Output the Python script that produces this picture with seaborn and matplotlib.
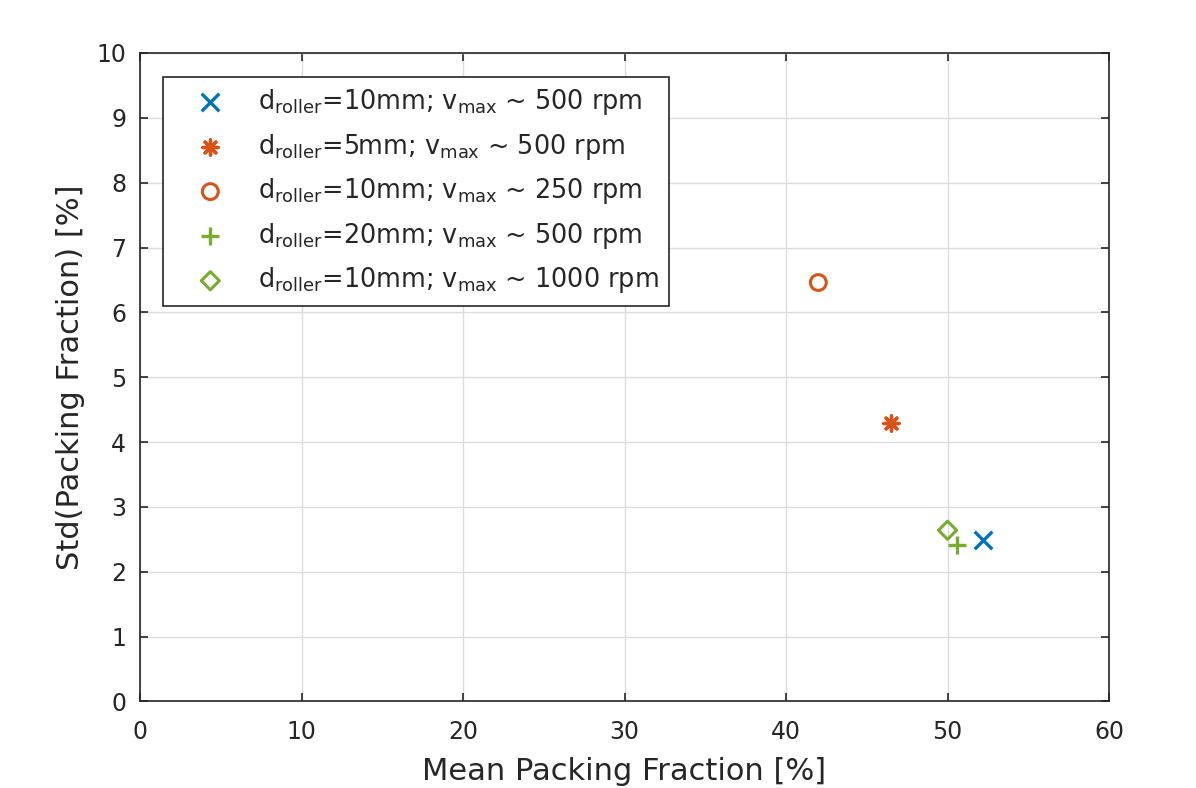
"""
Std vs mean packing fraction for different roller settings
"""
import matplotlib
matplotlib.use("Agg")
import matplotlib.pyplot as plt
import seaborn as sns
import pandas as pd

# data
labels = [
    r"d$_{\rm roller}$=10mm; v$_{\rm max}$ ~ 500 rpm",
    r"d$_{\rm roller}$=5mm; v$_{\rm max}$ ~ 500 rpm",
    r"d$_{\rm roller}$=10mm; v$_{\rm max}$ ~ 250 rpm",
    r"d$_{\rm roller}$=20mm; v$_{\rm max}$ ~ 500 rpm",
    r"d$_{\rm roller}$=10mm; v$_{\rm max}$ ~ 1000 rpm",
]
mean_pf = [52.2, 46.5, 42.0, 50.6, 50.0]
std_pf = [2.49, 4.29, 6.46, 2.42, 2.64]

markers = ["x", (8, 2, 0), "o", "+", "D"]
colors = ["#0072BD", "#D95319", "#D95319", "#77AC30", "#77AC30"]
filled = [False, False, True, False, True]
sizes = [160, 120, 130, 180, 85]

x_ticks = list(range(0, 61, 10))
y_ticks = list(range(0, 11))

sns.set_theme(style="ticks")
plt.rcParams["font.family"] = ["DejaVu Sans"]
plt.rcParams["mathtext.default"] = "regular"

fig = plt.figure(figsize=(11.96, 7.88), dpi=100)
ax = fig.add_axes([0.1171, 0.1098, 0.8102, 0.8230])

df = pd.DataFrame({"mean": mean_pf, "std": std_pf, "label": labels})

for i, row in df.iterrows():
    sub = df.iloc[[i]]
    if filled[i]:
        sns.scatterplot(data=sub, x="mean", y="std", marker=markers[i], s=sizes[i],
                        facecolors="none", edgecolor=colors[i], linewidth=2.2,
                        label=row["label"], ax=ax, zorder=3)
    else:
        sns.scatterplot(data=sub, x="mean", y="std", marker=markers[i], s=sizes[i],
                        color=colors[i], linewidth=2.4,
                        label=row["label"], ax=ax, zorder=3)

ax.set_xlim(0, 60)
ax.set_ylim(0, 10)
ax.set_xticks(x_ticks)
ax.set_yticks(y_ticks)
ax.grid(True, color="#dcdcdc", linewidth=1.0)
ax.set_axisbelow(True)
ax.tick_params(axis="both", direction="in", length=6, width=1.2, colors="#262626",
               labelsize=17, top=True, right=True, labeltop=False, labelright=False)
ax.tick_params(axis="x", pad=13)
ax.tick_params(axis="y", pad=10)
for sp in ax.spines.values():
    sp.set_color("#262626")
    sp.set_linewidth(1.2)

ax.set_xlabel("Mean Packing Fraction [%]", fontsize=22, color="#262626", labelpad=10)
ax.set_ylabel("Std(Packing Fraction) [%]", fontsize=22, color="#262626", labelpad=8)

leg = ax.legend(loc="upper left", bbox_to_anchor=(23 / 969, 1 - 24 / 648.5),
                borderaxespad=0, fontsize=18.4, frameon=True, fancybox=False,
                edgecolor="#262626", framealpha=1, handletextpad=0.4,
                labelspacing=0.57, borderpad=0.4, handlelength=2.9)
leg.get_frame().set_linewidth(1.2)

fig.savefig("out.png", dpi=100)
